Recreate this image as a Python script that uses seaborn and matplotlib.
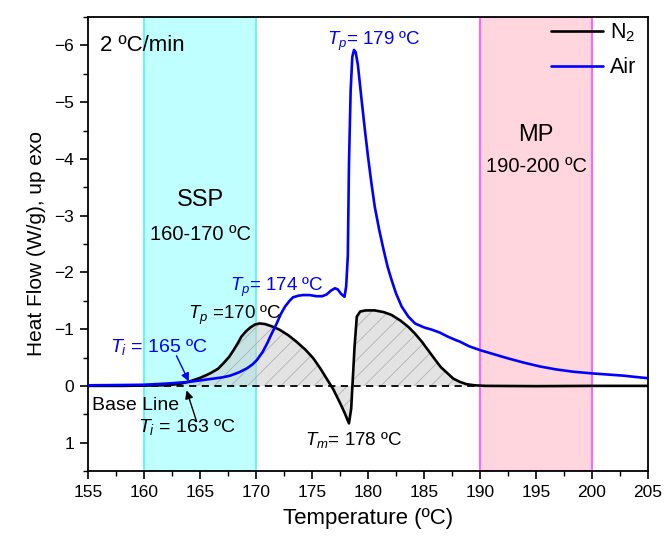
import numpy as np
import pandas as pd
import matplotlib
matplotlib.use("Agg")
import matplotlib.pyplot as plt
import seaborn as sns

# ---- data ----
n2_temp = [155.0, 158.0, 160.0, 161.5, 162.5, 163.3, 164.1, 165.0, 165.9, 166.6,
           167.1, 167.6, 168.0, 168.4, 168.7, 169.1, 169.5, 169.9, 170.3, 170.8,
           171.4, 172.1, 172.9, 173.6, 174.4, 175.1, 175.7, 176.3, 176.9, 177.5,
           177.9, 178.3, 178.5, 178.65, 178.8, 179.0, 179.3, 179.8, 180.6, 181.4,
           182.1, 182.9, 183.6, 184.2, 184.8, 185.4, 186.0, 186.5, 187.0, 187.6,
           188.2, 188.8, 189.5, 190.5, 195.0, 200.0, 205.0]
n2_flow = [0.0, 0.0, -0.005, -0.01, -0.02, -0.04, -0.08, -0.14, -0.22, -0.30,
           -0.40, -0.51, -0.63, -0.76, -0.87, -0.96, -1.03, -1.08, -1.10, -1.09,
           -1.05, -0.99, -0.89, -0.78, -0.64, -0.49, -0.32, -0.13, 0.06, 0.30,
           0.47, 0.66, 0.40, -0.15, -0.69, -1.22, -1.31, -1.33, -1.33, -1.30,
           -1.25, -1.15, -1.04, -0.92, -0.78, -0.62, -0.46, -0.33, -0.24, -0.13,
           -0.07, -0.03, -0.01, 0.0, 0.005, 0.0, 0.0]

air_temp = [155.0, 158.0, 160.0, 162.0, 164.0, 165.9, 167.0, 167.7, 168.5, 169.2,
            169.7, 170.1, 170.6, 171.0, 171.4, 171.85, 172.2, 172.6, 173.0, 173.3,
            173.8, 174.2, 174.8, 175.4, 175.9, 176.3, 176.7, 177.05, 177.3, 177.6,
            177.9, 178.05, 178.2, 178.3, 178.45, 178.6, 178.75, 178.9, 179.1, 179.4,
            179.7, 180.0, 180.3, 180.6, 181.0, 181.4, 181.75, 182.1, 182.5, 183.0,
            183.6, 184.2, 185.0, 185.7, 186.4, 187.1, 187.8, 188.2, 189.0, 190.0,
            191.2, 192.4, 193.9, 195.4, 196.8, 198.3, 200.0, 201.4, 202.8, 204.0, 205.0]
air_flow = [-0.01, -0.015, -0.02, -0.04, -0.07, -0.12, -0.15, -0.18, -0.24, -0.31,
            -0.38, -0.46, -0.60, -0.75, -0.92, -1.10, -1.26, -1.40, -1.50, -1.56,
            -1.59, -1.60, -1.60, -1.58, -1.58, -1.61, -1.68, -1.72, -1.70, -1.62,
            -1.57, -1.75, -2.30, -3.90, -5.20, -5.80, -5.92, -5.88, -5.65, -5.09,
            -4.55, -4.04, -3.58, -3.16, -2.75, -2.39, -2.10, -1.87, -1.63, -1.40,
            -1.22, -1.10, -1.03, -0.99, -0.94, -0.87, -0.81, -0.78, -0.70, -0.63,
            -0.56, -0.49, -0.41, -0.34, -0.29, -0.25, -0.22, -0.20, -0.18, -0.155, -0.135]

series_labels = ["N$_2$", "Air"]
ssp_range = (160, 170)
mp_range = (190, 200)
fill_range = (162.0, 190.5)
x_ticks = list(range(155, 206, 5))
y_ticks = list(range(-6, 2))

# ---- style ----
sns.set_theme(style="ticks")
plt.rcParams["font.family"] = ["Liberation Sans", "DejaVu Sans"]
plt.rcParams["mathtext.fontset"] = "custom"
plt.rcParams["mathtext.rm"] = "Liberation Sans"
plt.rcParams["mathtext.it"] = "Liberation Sans:italic"
plt.rcParams["hatch.linewidth"] = 0.6
plt.rcParams["text.color"] = "black"
plt.rcParams["axes.labelcolor"] = "black"
plt.rcParams["xtick.color"] = "black"
plt.rcParams["ytick.color"] = "black"
plt.rcParams["axes.edgecolor"] = "black"

fig = plt.figure(figsize=(6.64, 5.43), dpi=100)
ax = fig.add_axes([88 / 664, 72 / 543, 560 / 664, 454 / 543])

n2 = pd.DataFrame({"T": n2_temp, "HF": n2_flow})
air = pd.DataFrame({"T": air_temp, "HF": air_flow})

# shaded process windows
ax.axvspan(*ssp_range, facecolor="#BFFFFF", edgecolor="#5CF5F5", lw=1.3, zorder=0)
ax.axvspan(*mp_range, facecolor="#FFD6DE", edgecolor="#FF66FF", lw=1.5, zorder=0)

# hatched area between N2 curve and baseline
t_arr = np.array(n2_temp)
mask = (t_arr >= fill_range[0]) & (t_arr <= fill_range[1])
ax.fill_between(t_arr, np.array(n2_flow), 0, where=mask, interpolate=True,
                facecolor=(0.8, 0.8, 0.8, 0.55), edgecolor=(0.65, 0.65, 0.65, 0.8),
                hatch="//", linewidth=0, zorder=1)

# baseline
ax.plot([155, 190], [0, 0], color="black", lw=1.3, ls=(0, (4, 3)), zorder=2)

sns.lineplot(data=n2, x="T", y="HF", color="black", lw=1.9, ax=ax,
             label=series_labels[0], zorder=3)
sns.lineplot(data=air, x="T", y="HF", color="#0000FF", lw=1.9, ax=ax,
             label=series_labels[1], zorder=3)

ax.set_xlim(155, 205)
ax.set_ylim(1.5, -6.5)
ax.set_xticks(x_ticks)
ax.set_yticks(y_ticks)
ax.set_xticks(np.arange(157.5, 205, 5), minor=True)
ax.set_yticks(np.arange(-6.5, 1.6, 1.0), minor=True)
ax.tick_params(which="major", direction="out", length=6, width=1.2, labelsize=12.5,
               colors="black", pad=4)
ax.tick_params(which="minor", direction="out", length=3.5, width=1.0, colors="black")
for s in ax.spines.values():
    s.set_linewidth(1.3)
    s.set_color("black")

ax.set_xlabel("Temperature (ºC)", fontsize=16, labelpad=6, color="black")
ax.set_ylabel("Heat Flow (W/g), up exo", fontsize=15, labelpad=6, color="black")

leg = ax.legend(loc="upper left", bbox_to_anchor=(0.827, 0.99), frameon=False,
                fontsize=15.5, handlelength=2.4, handletextpad=0.35,
                labelspacing=0.6, borderpad=0, borderaxespad=0)
for t in leg.get_texts():
    t.set_color("black")

# annotations
ax.text(156.1, -6.0, "2 ºC/min", fontsize=16, ha="left", va="center")
ax.text(165, -3.27, "SSP", fontsize=17, ha="center", va="center")
ax.text(165, -2.66, "160-170 ºC", fontsize=14.5, ha="center", va="center")
ax.text(195, -4.42, "MP", fontsize=17, ha="center", va="center")
ax.text(195, -3.86, "190-200 ºC", fontsize=14.5, ha="center", va="center")

blue = "#0000FF"
ax.text(176.3, -6.0, "$T_p$= 179 ºC", color=blue, fontsize=13.5, ha="left", va="baseline")
ax.text(167.7, -1.67, "$T_p$= 174 ºC", color=blue, fontsize=13.5, ha="left", va="baseline")
ax.text(163.96, -1.18, "$T_p$ =170 ºC", color="black", fontsize=13.5, ha="left", va="baseline")
ax.text(157.0, -0.60, "$T_i$ = 165 ºC", color=blue, fontsize=14, ha="left", va="baseline")
ax.text(155.33, 0.42, "Base Line", color="black", fontsize=14, ha="left", va="baseline")
ax.text(159.5, 0.81, "$T_i$ = 163 ºC", color="black", fontsize=14, ha="left", va="baseline")
ax.text(174.4, 1.04, "$T_m$= 178 ºC", color="black", fontsize=13.5, ha="left", va="baseline")

ax.annotate("", xy=(164.0, -0.08), xytext=(162.9, -0.53),
            arrowprops=dict(arrowstyle="-|>", color=blue, lw=1.0,
                            mutation_scale=12, shrinkA=0, shrinkB=0))
ax.annotate("", xy=(163.8, 0.08), xytext=(164.7, 0.63),
            arrowprops=dict(arrowstyle="-|>", color="black", lw=1.0,
                            mutation_scale=12, shrinkA=0, shrinkB=0))

fig.savefig("out.png", dpi=100)
